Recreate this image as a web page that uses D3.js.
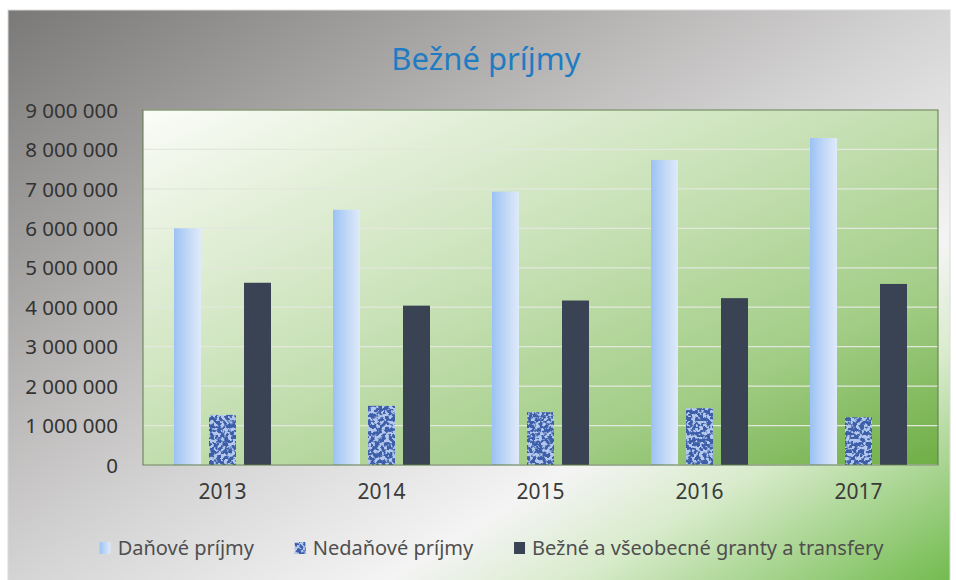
<!DOCTYPE html>
<html>
<head>
<meta charset="utf-8">
<script src="https://cdn.jsdelivr.net/npm/d3@7"></script>
<style>
  html, body { margin: 0; padding: 0; background: #ffffff; }
  svg { display: block; }
  text { font-family: "Noto Sans", "Open Sans", sans-serif; }
</style>
</head>
<body>
<svg id="chart" width="956" height="580"></svg>
<script>
// ---- data ----
const years = ["2013", "2014", "2015", "2016", "2017"];
const seriesNames = ["Daňové príjmy", "Nedaňové príjmy", "Bežné a všeobecné granty a transfery"];
const danovePrijmy   = [6000000, 6470000, 6930000, 7730000, 8290000];
const nedanovePrijmy = [1270000, 1500000, 1340000, 1440000, 1210000];
const grantyTransfery = [4620000, 4040000, 4170000, 4230000, 4590000];
const yTicks = [0, 1000000, 2000000, 3000000, 4000000, 5000000, 6000000, 7000000, 8000000, 9000000];
const chartTitle = "Bežné príjmy";

const seriesValues = [danovePrijmy, nedanovePrijmy, grantyTransfery];

const svg = d3.select("#chart");
const defs = svg.append("defs");

// outer background gradient (diagonal gray -> white -> green)
const bg = defs.append("linearGradient").attr("id", "bgGrad")
  .attr("x1", "0").attr("y1", "0").attr("x2", "1").attr("y2", "1");
[[0, "#7b7978"], [0.28, "#aeacab"], [0.5, "#d5d4d4"], [0.7, "#f4f4f4"], [0.8, "#d8ebcb"], [1, "#72bb4e"]]
  .forEach(([o, c]) => bg.append("stop").attr("offset", o).attr("stop-color", c));

// plot area gradient
const pg = defs.append("linearGradient").attr("id", "plotGrad")
  .attr("x1", "0").attr("y1", "0").attr("x2", "1").attr("y2", "1");
[[0, "#fbfcf8"], [0.45, "#c8e1b6"], [0.75, "#a2cd86"], [1, "#6fae45"]]
  .forEach(([o, c]) => pg.append("stop").attr("offset", o).attr("stop-color", c));

// light blue bar gradient (horizontal)
const bb = defs.append("linearGradient").attr("id", "blueGrad")
  .attr("x1", "0").attr("y1", "0").attr("x2", "1").attr("y2", "0");
[[0, "#9bc2f4"], [0.5, "#c0d7f6"], [1, "#dfeaf9"]]
  .forEach(([o, c]) => bb.append("stop").attr("offset", o).attr("stop-color", c));

// mottled texture filter for the second series
const f = defs.append("filter").attr("id", "tex")
  .attr("x", "0").attr("y", "0").attr("width", "1").attr("height", "1")
  .attr("color-interpolation-filters", "sRGB");
f.append("feTurbulence").attr("type", "fractalNoise").attr("baseFrequency", "0.28")
  .attr("numOctaves", 2).attr("seed", 7).attr("result", "n");
f.append("feColorMatrix").attr("in", "n").attr("type", "matrix")
  .attr("values", "0 0 0 0 0.24  0 0 0 0 0.37  0 0 0 0 0.66  -9 0 0 0 5.2").attr("result", "blobs");
f.append("feComposite").attr("in", "blobs").attr("in2", "SourceGraphic").attr("operator", "atop");

const chart = { x: 8, y: 10, w: 942, h: 572 };
const plot = { left: 143, right: 938, top: 110, bottom: 465 };

svg.append("rect").attr("x", chart.x).attr("y", chart.y).attr("width", chart.w).attr("height", chart.h)
  .attr("fill", "url(#bgGrad)").attr("stroke", "#d9d9d9").attr("stroke-width", 1);

// title
svg.append("text").attr("x", 486).attr("y", 70).attr("text-anchor", "middle")
  .attr("font-size", 31).attr("fill", "#1f7cc3").text(chartTitle);

// scales
const y = d3.scaleLinear().domain([0, 9000000]).range([plot.bottom, plot.top]);
const x0 = d3.scaleBand().domain(years).range([plot.left, plot.right]);
const groupW = 97;
const x1 = d3.scaleBand().domain(d3.range(seriesNames.length)).range([0, groupW])
  .paddingInner(8 / 35).paddingOuter(0);
const groupOffset = (x0.bandwidth() - groupW) / 2;

// plot area
svg.append("rect").attr("x", plot.left).attr("y", plot.top)
  .attr("width", plot.right - plot.left).attr("height", plot.bottom - plot.top)
  .attr("fill", "url(#plotGrad)");

// gridlines
svg.append("g").selectAll("line").data(yTicks.filter(d => d > 0)).join("line")
  .attr("x1", plot.left).attr("x2", plot.right)
  .attr("y1", d => y(d)).attr("y2", d => y(d))
  .attr("stroke", "#e2e8dc").attr("stroke-width", 1.2);

// baseline
svg.append("line").attr("x1", plot.left).attr("x2", plot.right)
  .attr("y1", y(0)).attr("y2", y(0)).attr("stroke", "#dfe6da").attr("stroke-width", 1.5);

// y axis labels
const yAxis = svg.append("g").attr("transform", `translate(${plot.left},0)`)
  .call(d3.axisLeft(y).tickValues(yTicks).tickSize(0).tickPadding(25)
    .tickFormat(d => d3.format(",")(d).replace(/,/g, " ")));
yAxis.select(".domain").remove();
yAxis.selectAll("text").attr("font-size", 20.5).attr("fill", "#333333")
  .attr("font-family", "'Noto Sans', sans-serif").attr("dy", "0.35em");

// x axis labels
const xAxis = svg.append("g").attr("transform", `translate(0,${plot.bottom})`)
  .call(d3.axisBottom(x0).tickSize(0).tickPadding(19));
xAxis.select(".domain").remove();
xAxis.selectAll("text").attr("font-size", 21).attr("fill", "#3a3a3a")
  .attr("font-family", "'Noto Sans', sans-serif");

// bars
const fills = ["url(#blueGrad)", "#b3c8ec", "#394353"];
seriesValues.forEach((vals, si) => {
  const g = svg.append("g");
  const r = g.selectAll("rect").data(vals).join("rect")
    .attr("x", (d, i) => x0(years[i]) + groupOffset + x1(si))
    .attr("width", x1.bandwidth())
    .attr("y", d => y(d))
    .attr("height", d => y(0) - y(d))
    .attr("fill", fills[si]);
  if (si === 1) r.attr("filter", "url(#tex)");
});

// plot border
svg.append("rect").attr("x", plot.left).attr("y", plot.top)
  .attr("width", plot.right - plot.left).attr("height", plot.bottom - plot.top)
  .attr("fill", "none").attr("stroke", "#5d7a48").attr("stroke-width", 1);

// legend
const legend = svg.append("g");
const items = legend.selectAll("g").data(seriesNames).join("g");
items.append("rect").attr("width", 11).attr("height", 12)
  .attr("fill", (d, i) => fills[i]).attr("filter", (d, i) => i === 1 ? "url(#tex)" : null);
items.append("text").attr("x", 18).attr("y", 6).attr("dy", "0.35em")
  .attr("font-size", 20).attr("fill", "#4f4f4f").text(d => d);
const widths = [];
items.each(function () { widths.push(this.getBBox().width); });
const gap = 40;
const total = d3.sum(widths) + gap * (widths.length - 1);
let lx = 492 - total / 2;
items.attr("transform", (d, i) => {
  const t = `translate(${lx},${548 - 6})`;
  lx += widths[i] + gap;
  return t;
});
</script>
</body>
</html>
